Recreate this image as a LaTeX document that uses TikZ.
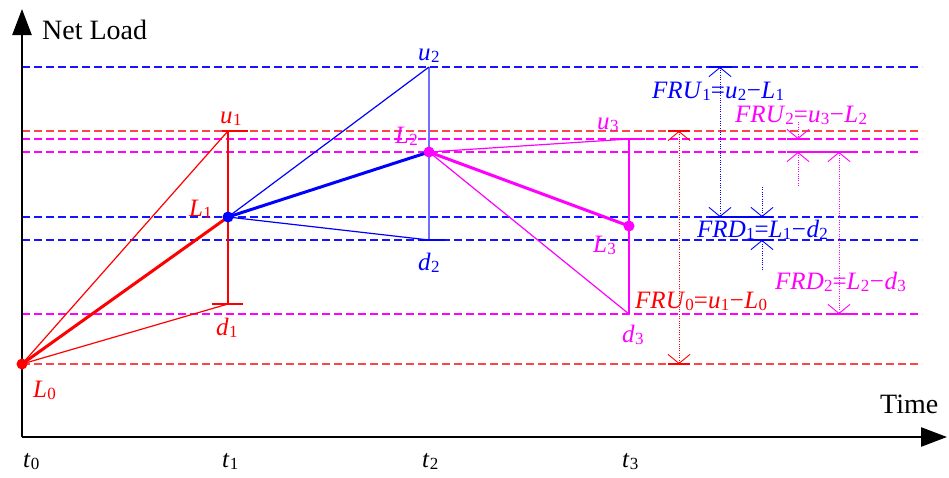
\documentclass[tikz,border=0pt]{standalone}
\usepackage{fontspec}
\setmainfont{Liberation Serif}
\usetikzlibrary{arrows.meta}
\definecolor{colR}{RGB}{255,0,0}
\definecolor{colB}{RGB}{0,0,255}
\definecolor{colM}{RGB}{255,0,255}
\definecolor{colRd}{RGB}{250,70,70}
\definecolor{colBd}{RGB}{20,20,255}
\definecolor{colBv}{RGB}{110,110,255}
\newcommand\vs[2]{\textit{#1}\kern0.3pt\raisebox{-2pt}{\fontsize{17}{17}\selectfont #2}}
\newcommand\mns{\kern0.5pt−\kern0.5pt}
\tikzset{
  lab/.style={inner sep=0pt, font=\fontsize{25}{25}\selectfont, anchor=base west},
  axlab/.style={inner sep=0pt, font=\fontsize{28}{28}\selectfont, anchor=base west},
  hdash/.style={line width=1.25pt, dash pattern=on 8pt off 4pt},
  thinl/.style={line width=1.2pt},
  thickl/.style={line width=3pt},
  tickl/.style={line width=1.5pt},
  dimdot/.style={line width=0.9pt, dash pattern=on 1pt off 1.3pt},
  barb/.style={arrows={-Straight Barb[length=9pt,width=22pt,line width=0.9pt]}},
  dbarb/.style={arrows={Straight Barb[length=9pt,width=22pt,line width=0.9pt]-Straight Barb[length=9pt,width=22pt,line width=0.9pt]}},
  axis/.style={line width=2.5pt, arrows={-Triangle[length=26pt,width=19pt]}},
  dot/.style={circle, inner sep=0pt, minimum size=11pt}
}
\begin{document}
\begin{tikzpicture}[x=1pt,y=-1pt]
\useasboundingbox (0,0) rectangle (949,477);
% horizontal dashed levels
\draw[hdash,colBd] (22,67) coordinate (h1a) -- (922,67) coordinate (h1b);
\draw[hdash,colRd] (22,131) coordinate (h2a) -- (922,131) coordinate (h2b);
\draw[hdash,colM] (22,139) coordinate (h3a) -- (922,139) coordinate (h3b);
\draw[hdash,colM] (22,152) coordinate (h4a) -- (922,152) coordinate (h4b);
\draw[hdash,colBd] (22,217) coordinate (h5a) -- (922,217) coordinate (h5b);
\draw[hdash,colBd] (22,240) coordinate (h6a) -- (922,240) coordinate (h6b);
\draw[hdash,colM] (22,314) coordinate (h7a) -- (922,314) coordinate (h7b);
\draw[hdash,colRd] (22,364) coordinate (h8a) -- (922,364) coordinate (h8b);
% axes
\coordinate (O) at (22,437);
\coordinate (ytip) at (22,9);
\coordinate (xtip) at (947,437);
\draw[axis] (O) -- (ytip);
\draw[axis] (O) -- (xtip);
% key points
\coordinate (L0) at (22,364);
\coordinate (u1) at (228,131);
\coordinate (L1) at (228,217);
\coordinate (d1) at (228,304);
\coordinate (u2) at (429,67);
\coordinate (L2) at (429,152);
\coordinate (d2) at (429,240);
\coordinate (u3) at (629,139);
\coordinate (L3) at (629,226);
\coordinate (d3) at (629,314);
% stage 1 (red)
\draw[thinl,colR] (L0) -- (u1);
\draw[thinl,colR] (L0) -- (d1);
\draw[thinl,colR] (u1) -- (d1);
\draw[thickl,colR] (L0) -- (L1);
\draw[tickl,colR] (222,131) coordinate (tu1a) -- (248,131) coordinate (tu1b);
\draw[tickl,colR] (212,304) coordinate (td1a) -- (243,304) coordinate (td1b);
% stage 2 (blue)
\draw[thinl,colBv] (u2) -- (d2);
\draw[thinl,colB] (L1) -- (u2);
\draw[thinl,colB] (L1) -- (d2);
\draw[thickl,colB] (L1) -- (L2);
\draw[tickl,colB] (420,240) coordinate (td2a) -- (445,240) coordinate (td2b);
% stage 3 (magenta)
\draw[thinl,colM] (u3) -- (d3);
\draw[thinl,colM] (L2) -- (u3);
\draw[thinl,colM] (L2) -- (d3);
\draw[thickl,colM] (L2) -- (L3);
\draw[tickl,colM] (615,139) coordinate (tu3a) -- (645,139) coordinate (tu3b);
% dots
\node[dot,fill=colR] (nL0) at (L0) {};
\node[dot,fill=colB] (nL1) at (L1) {};
\node[dot,fill=colM] (nL2) at (L2) {};
\node[dot,fill=colM] (nL3) at (L3) {};
% FRU0
\coordinate (f0a) at (679,131);
\coordinate (f0b) at (679,364);
\draw[dimdot,colR,dbarb] (f0b) -- (f0a);
\draw[tickl,colR] (668,131) coordinate (t0a) -- (690,131) coordinate (t0b);
\draw[tickl,colR] (668,364) coordinate (t0c) -- (690,364) coordinate (t0d);
% FRU1
\coordinate (f1a) at (720,67);
\coordinate (f1b) at (720,217);
\draw[dimdot,colB,dbarb] (f1b) -- (f1a);
\draw[tickl,colB] (709,67) coordinate (t1a) -- (732,67) coordinate (t1b);
\draw[tickl,colB] (709,217) coordinate (t1c) -- (773,217) coordinate (t1d);
% FRD1
\coordinate (g1a) at (762,187);
\coordinate (g1b) at (762,217);
\coordinate (g1c) at (762,270);
\coordinate (g1d) at (762,240);
\draw[dimdot,colB,barb] (g1a) -- (g1b);
\draw[dimdot,colB,barb] (g1c) -- (g1d);
\draw[tickl,colB] (749,240) coordinate (t1e) -- (773,240) coordinate (t1f);
% FRU2
\coordinate (f2a) at (798,122);
\coordinate (f2b) at (798,139);
\coordinate (f2c) at (798,186);
\coordinate (f2d) at (798,152);
\draw[dimdot,colM,barb] (f2a) -- (f2b);
\draw[dimdot,colM,barb] (f2c) -- (f2d);
\draw[tickl,colM] (787,139) coordinate (t2a) -- (809,139) coordinate (t2b);
\draw[tickl,colM] (787,152) coordinate (t2c) -- (851,152) coordinate (t2d);
% FRD2
\coordinate (g2a) at (839,152);
\coordinate (g2b) at (839,314);
\draw[dimdot,colM,dbarb] (g2a) -- (g2b);
\draw[tickl,colM] (828,314) coordinate (t2e) -- (851,314) coordinate (t2f);
% labels
\node[axlab] (ny) at (42,39) {Net Load};
\node[axlab] (nx) at (880,413) {Time};
\node[lab] (nt0) at (23,467) {\vs{t}{0}};
\node[lab] (nt1) at (222,467) {\vs{t}{1}};
\node[lab] (nt2) at (422,467) {\vs{t}{2}};
\node[lab] (nt3) at (622,467) {\vs{t}{3}};
\node[lab,text=colR] (lL0) at (33,397) {\vs{L}{0}};
\node[lab,text=colR] (lu1) at (220,123) {\vs{u}{1}};
\node[lab,text=colR] (lL1) at (189,216) {\vs{L}{1}};
\node[lab,text=colR] (ld1) at (216,335) {\vs{d}{1}};
\node[lab,text=colB] (lu2) at (418,60) {\vs{u}{2}};
\node[lab,text=colB] (ld2) at (418,270) {\vs{d}{2}};
\node[lab,text=colM] (lL2) at (395,143) {\vs{L}{2}};
\node[lab,text=colM] (lu3) at (597,129) {\vs{u}{3}};
\node[lab,text=colM] (lL3) at (593,252) {\vs{L}{3}};
\node[lab,text=colM] (ld3) at (622,342) {\vs{d}{3}};
\node[lab,text=colR] (lf0) at (635,308) {\vs{FRU}{0}=\vs{u}{1}\mns\vs{L}{0}};
\node[lab,text=colB] (lf1) at (652,98) {\vs{FRU}{1}=\vs{u}{2}\mns\vs{L}{1}};
\node[lab,text=colB] (lg1) at (697,237) {\vs{FRD}{1}=\vs{L}{1}\mns\vs{d}{2}};
\node[lab,text=colM] (lf2) at (735,122) {\vs{FRU}{2}=\vs{u}{3}\mns\vs{L}{2}};
\node[lab,text=colM] (lg2) at (775,289) {\vs{FRD}{2}=\vs{L}{2}\mns\vs{d}{3}};
\end{tikzpicture}
\end{document}
